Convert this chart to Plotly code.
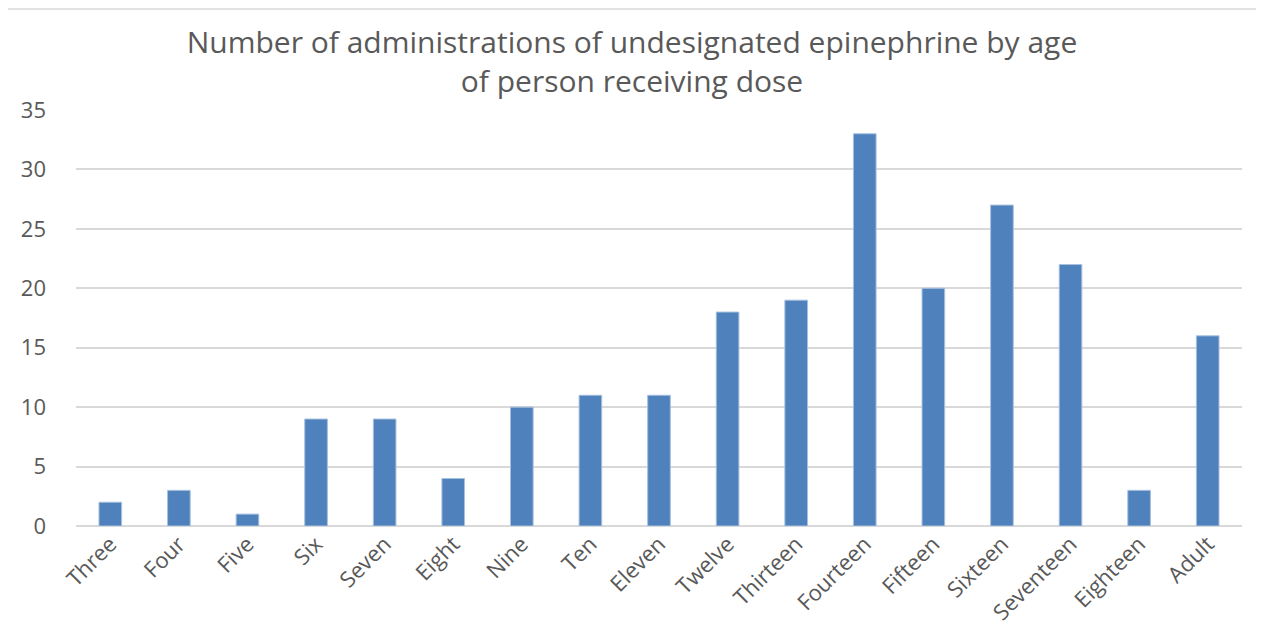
import plotly.graph_objects as go

categories = ["Three", "Four", "Five", "Six", "Seven", "Eight", "Nine", "Ten", "Eleven",
              "Twelve", "Thirteen", "Fourteen", "Fifteen", "Sixteen", "Seventeen", "Eighteen", "Adult"]
values = [2, 3, 1, 9, 9, 4, 10, 11, 11, 18, 19, 33, 20, 27, 22, 3, 16]
y_ticks = [0, 5, 10, 15, 20, 25, 30, 35]

W, H = 1248, 618
L, R, T, B = 68, 14, 102, 100
plot_w = W - L - R
plot_h = H - T - B

fig = go.Figure(go.Bar(
    x=categories, y=values,
    marker=dict(color="#4F81BD", line=dict(color="#A7C0DE", width=1)),
))

fig.update_layout(
    width=W, height=H,
    margin=dict(l=L, r=R, t=T, b=B, autoexpand=False),
    paper_bgcolor="white", plot_bgcolor="white",
    bargap=0.67,
    showlegend=False,
    title=dict(
        text="Number of administrations of undesignated epinephrine by age<br>of person receiving dose",
        x=0.5, xanchor="center", y=1 - 45 / H, yanchor="middle",
        font=dict(family="Open Sans", size=30, color="#595959"),
    ),
    font=dict(family="Open Sans", size=22, color="#595959"),
    xaxis=dict(
        tickangle=-45, showgrid=False, showline=False, ticks="", automargin=False,
        tickfont=dict(family="Open Sans", size=22, color="#595959"),
    ),
    yaxis=dict(
        range=[0, 35], tickvals=y_ticks, showgrid=True, gridcolor="#D9D9D9", gridwidth=1.5,
        zeroline=True, zerolinecolor="#D9D9D9", zerolinewidth=1.5, automargin=False,
        showline=False, ticks="", ticklabelstandoff=29,
        tickfont=dict(family="Open Sans", size=22, color="#595959"),
    ),
    shapes=[dict(type="line", xref="paper", yref="paper",
                 x0=-L / plot_w, x1=(W - L) / plot_w,
                 y0=(plot_h + T - 1) / plot_h, y1=(plot_h + T - 1) / plot_h,
                 line=dict(color="#D9D9D9", width=1.5))],
)

fig.write_html("out.html")
